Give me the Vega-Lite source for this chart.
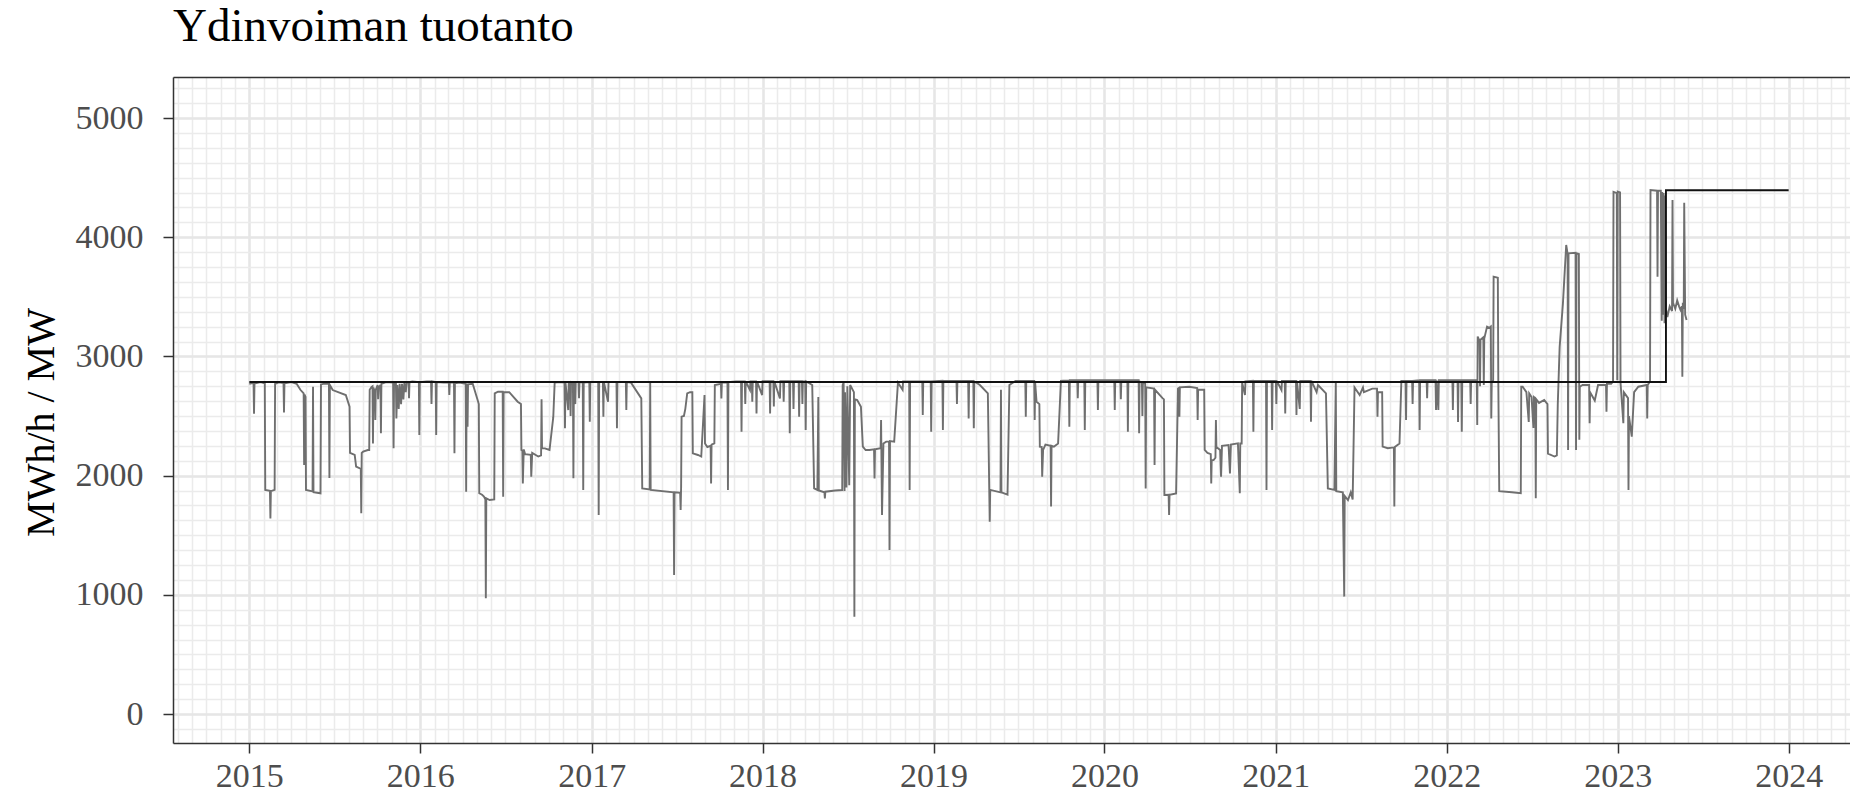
{
"$schema": "https://vega.github.io/schema/vega-lite/v6.json",
"width": 1677, "height": 666,
"autosize": {"type": "none"},
"padding": {"left": 173, "top": 77, "right": 0, "bottom": 55},
"background": "white",
"title": {"text": "Ydinvoiman tuotanto", "anchor": "start", "frame": "group", "font": "Liberation Serif", "fontSize": 47, "fontWeight": "normal", "color": "#000000", "offset": 26, "dy": 37, "baseline": "alphabetic"},
"config": {"view": {"stroke": null}},
"datasets": {
"prod": [
{"date":"2015-01-01","value":2770},{"date":"2015-01-10","value":2778},{"date":"2015-01-11","value":2520},{"date":"2015-01-12","value":2772},{"date":"2015-01-25","value":2785},
{"date":"2015-02-03","value":2775},{"date":"2015-02-04","value":1880},{"date":"2015-02-14","value":1872},{"date":"2015-02-15","value":1640},{"date":"2015-02-16","value":1870},{"date":"2015-02-24","value":1880},{"date":"2015-02-25","value":2770},
{"date":"2015-03-05","value":2782},{"date":"2015-03-15","value":2776},{"date":"2015-03-16","value":2530},{"date":"2015-03-17","value":2775},{"date":"2015-04-01","value":2785},{"date":"2015-04-12","value":2770},{"date":"2015-04-20","value":2720},{"date":"2015-04-27","value":2690},{"date":"2015-04-28","value":2090},{"date":"2015-04-29","value":2680},{"date":"2015-05-01","value":2660},
{"date":"2015-05-02","value":1880},{"date":"2015-05-16","value":1868},{"date":"2015-05-17","value":2745},{"date":"2015-05-18","value":1862},{"date":"2015-06-02","value":1852},{"date":"2015-06-03","value":2765},{"date":"2015-06-10","value":2772},{"date":"2015-06-20","value":2770},{"date":"2015-06-21","value":1980},{"date":"2015-06-22","value":2760},
{"date":"2015-06-28","value":2718},{"date":"2015-07-26","value":2676},{"date":"2015-08-03","value":2578},{"date":"2015-08-04","value":2190},{"date":"2015-08-14","value":2173},{"date":"2015-08-17","value":2075},{"date":"2015-08-25","value":2061},{"date":"2015-08-27","value":2060},{"date":"2015-08-28","value":1684},{"date":"2015-08-29","value":2190},{"date":"2015-09-01","value":2201},{"date":"2015-09-11","value":2215},{"date":"2015-09-14","value":2215},{"date":"2015-09-15","value":2720},
{"date":"2015-09-19","value":2745},{"date":"2015-09-21","value":2750},{"date":"2015-09-22","value":2270},{"date":"2015-09-23","value":2740},{"date":"2015-09-26","value":2700},{"date":"2015-09-27","value":2466},{"date":"2015-09-28","value":2720},{"date":"2015-10-02","value":2760},{"date":"2015-10-03","value":2640},{"date":"2015-10-04","value":2730},{"date":"2015-10-08","value":2760},{"date":"2015-10-09","value":2355},{"date":"2015-10-10","value":2770},{"date":"2015-10-20","value":2785},
{"date":"2015-11-04","value":2780},{"date":"2015-11-05","value":2229},{"date":"2015-11-06","value":2775},{"date":"2015-11-10","value":2780},{"date":"2015-11-11","value":2480},{"date":"2015-11-13","value":2760},{"date":"2015-11-16","value":2560},{"date":"2015-11-18","value":2770},{"date":"2015-11-21","value":2600},{"date":"2015-11-23","value":2770},{"date":"2015-11-26","value":2640},{"date":"2015-11-28","value":2780},{"date":"2015-12-01","value":2700},{"date":"2015-12-03","value":2785},{"date":"2015-12-07","value":2785},{"date":"2015-12-08","value":2650},{"date":"2015-12-09","value":2785},{"date":"2015-12-15","value":2790},{"date":"2015-12-29","value":2785},{"date":"2015-12-30","value":2341},{"date":"2015-12-31","value":2785},
{"date":"2016-01-15","value":2790},{"date":"2016-01-24","value":2790},{"date":"2016-01-25","value":2600},{"date":"2016-01-26","value":2790},{"date":"2016-02-03","value":2785},{"date":"2016-02-04","value":2341},{"date":"2016-02-05","value":2785},{"date":"2016-02-20","value":2780},{"date":"2016-03-02","value":2780},{"date":"2016-03-03","value":2676},{"date":"2016-03-04","value":2780},{"date":"2016-03-13","value":2780},{"date":"2016-03-14","value":2187},{"date":"2016-03-15","value":2775},{"date":"2016-03-25","value":2780},{"date":"2016-04-07","value":2770},{"date":"2016-04-08","value":1865},{"date":"2016-04-09","value":2770},{"date":"2016-04-11","value":2410},{"date":"2016-04-12","value":2765},{"date":"2016-04-22","value":2770},
{"date":"2016-05-02","value":2640},{"date":"2016-05-05","value":2600},{"date":"2016-05-06","value":1852},{"date":"2016-05-12","value":1840},{"date":"2016-05-16","value":1825},{"date":"2016-05-19","value":1800},{"date":"2016-05-20","value":971},{"date":"2016-05-21","value":1810},{"date":"2016-05-28","value":1795},{"date":"2016-06-07","value":1800},{"date":"2016-06-08","value":2690},{"date":"2016-06-15","value":2704},{"date":"2016-06-25","value":2704},{"date":"2016-06-26","value":1823},{"date":"2016-06-27","value":2700},{"date":"2016-07-09","value":2700},{"date":"2016-07-27","value":2620},
{"date":"2016-08-03","value":2600},{"date":"2016-08-04","value":2215},{"date":"2016-08-06","value":2210},{"date":"2016-08-07","value":1935},{"date":"2016-08-09","value":2220},{"date":"2016-08-12","value":2180},{"date":"2016-08-24","value":2175},{"date":"2016-08-25","value":1991},{"date":"2016-08-27","value":2190},{"date":"2016-09-09","value":2160},{"date":"2016-09-15","value":2170},{"date":"2016-09-16","value":2640},{"date":"2016-09-17","value":2230},{"date":"2016-09-23","value":2229},{"date":"2016-10-03","value":2215},{"date":"2016-10-11","value":2490},{"date":"2016-10-14","value":2780},
{"date":"2016-10-25","value":2785},{"date":"2016-11-04","value":2780},{"date":"2016-11-05","value":2397},{"date":"2016-11-06","value":2785},{"date":"2016-11-12","value":2550},{"date":"2016-11-13","value":2785},{"date":"2016-11-16","value":2785},{"date":"2016-11-17","value":2500},{"date":"2016-11-18","value":2785},{"date":"2016-11-22","value":2780},{"date":"2016-11-23","value":1977},{"date":"2016-11-24","value":2780},{"date":"2016-11-27","value":2600},{"date":"2016-11-28","value":2785},{"date":"2016-12-04","value":2785},{"date":"2016-12-05","value":2650},{"date":"2016-12-06","value":2785},{"date":"2016-12-13","value":2780},{"date":"2016-12-14","value":1879},{"date":"2016-12-15","value":2780},{"date":"2016-12-27","value":2785},{"date":"2016-12-28","value":2452},{"date":"2016-12-29","value":2785},
{"date":"2017-01-15","value":2785},{"date":"2017-01-16","value":1670},{"date":"2017-01-17","value":2785},{"date":"2017-01-25","value":2785},{"date":"2017-01-26","value":2494},{"date":"2017-01-27","value":2785},{"date":"2017-02-05","value":2620},{"date":"2017-02-06","value":2785},{"date":"2017-02-23","value":2785},{"date":"2017-02-24","value":2397},{"date":"2017-02-25","value":2785},{"date":"2017-03-15","value":2785},{"date":"2017-03-16","value":2550},{"date":"2017-03-17","value":2785},{"date":"2017-03-26","value":2780},{"date":"2017-04-17","value":2648},
{"date":"2017-04-19","value":1893},{"date":"2017-05-05","value":1885},{"date":"2017-05-06","value":2780},{"date":"2017-05-07","value":1880},{"date":"2017-06-25","value":1860},{"date":"2017-06-26","value":1166},{"date":"2017-06-27","value":1860},{"date":"2017-07-03","value":1858},{"date":"2017-07-09","value":1855},{"date":"2017-07-10","value":1712},{"date":"2017-07-11","value":1900},{"date":"2017-07-12","value":2495},{"date":"2017-07-17","value":2500},{"date":"2017-07-20","value":2560},{"date":"2017-07-24","value":2690},{"date":"2017-07-30","value":2700},
{"date":"2017-08-04","value":2700},{"date":"2017-08-05","value":2187},{"date":"2017-08-16","value":2173},{"date":"2017-08-23","value":2160},{"date":"2017-08-30","value":2676},{"date":"2017-08-31","value":2270},{"date":"2017-09-05","value":2240},{"date":"2017-09-12","value":2250},{"date":"2017-09-13","value":1935},{"date":"2017-09-14","value":2260},{"date":"2017-09-20","value":2270},{"date":"2017-09-21","value":2760},{"date":"2017-10-04","value":2770},{"date":"2017-10-05","value":2648},{"date":"2017-10-06","value":2780},{"date":"2017-10-18","value":2780},{"date":"2017-10-19","value":1879},{"date":"2017-10-20","value":2785},
{"date":"2017-11-05","value":2790},{"date":"2017-11-16","value":2790},{"date":"2017-11-17","value":2369},{"date":"2017-11-18","value":2790},{"date":"2017-11-24","value":2790},{"date":"2017-11-25","value":2600},{"date":"2017-11-26","value":2790},{"date":"2017-12-05","value":2718},{"date":"2017-12-06","value":2790},{"date":"2017-12-09","value":2790},{"date":"2017-12-10","value":2620},{"date":"2017-12-11","value":2790},{"date":"2017-12-18","value":2790},{"date":"2017-12-19","value":2522},{"date":"2017-12-20","value":2790},{"date":"2017-12-31","value":2676},
{"date":"2018-01-01","value":2792},{"date":"2018-01-16","value":2792},{"date":"2018-01-17","value":2522},{"date":"2018-01-18","value":2792},{"date":"2018-01-24","value":2792},{"date":"2018-01-25","value":2580},{"date":"2018-01-26","value":2792},{"date":"2018-02-07","value":2648},{"date":"2018-02-08","value":2792},{"date":"2018-02-14","value":2792},{"date":"2018-02-15","value":2620},{"date":"2018-02-16","value":2792},{"date":"2018-02-27","value":2792},{"date":"2018-02-28","value":2355},{"date":"2018-03-01","value":2792},{"date":"2018-03-07","value":2792},{"date":"2018-03-08","value":2560},{"date":"2018-03-09","value":2792},{"date":"2018-03-19","value":2792},{"date":"2018-03-20","value":2495},{"date":"2018-03-21","value":2792},{"date":"2018-03-26","value":2792},{"date":"2018-03-27","value":2600},{"date":"2018-03-28","value":2792},{"date":"2018-04-02","value":2790},{"date":"2018-04-03","value":2383},{"date":"2018-04-04","value":2790},{"date":"2018-04-17","value":2760},
{"date":"2018-04-21","value":1893},{"date":"2018-04-28","value":1880},{"date":"2018-04-30","value":2660},{"date":"2018-05-01","value":1875},{"date":"2018-05-13","value":1860},{"date":"2018-05-14","value":1809},{"date":"2018-05-15","value":1865},{"date":"2018-06-05","value":1875},{"date":"2018-06-20","value":1879},{"date":"2018-06-21","value":2760},{"date":"2018-06-23","value":2780},{"date":"2018-06-25","value":1870},{"date":"2018-06-26","value":2700},{"date":"2018-06-29","value":1900},{"date":"2018-07-01","value":2750},{"date":"2018-07-05","value":1920},{"date":"2018-07-07","value":2760},{"date":"2018-07-15","value":2700},{"date":"2018-07-16","value":817},{"date":"2018-07-17","value":2640},{"date":"2018-07-22","value":2634},{"date":"2018-07-30","value":2578},
{"date":"2018-08-03","value":2243},{"date":"2018-08-09","value":2215},{"date":"2018-08-17","value":2215},{"date":"2018-08-27","value":2220},{"date":"2018-08-28","value":1977},{"date":"2018-08-29","value":2220},{"date":"2018-09-10","value":2230},{"date":"2018-09-11","value":2466},{"date":"2018-09-13","value":1670},{"date":"2018-09-16","value":2270},{"date":"2018-09-22","value":2285},{"date":"2018-09-28","value":2285},{"date":"2018-09-29","value":1376},{"date":"2018-09-30","value":2290},{"date":"2018-10-09","value":2285},{"date":"2018-10-17","value":2780},{"date":"2018-10-27","value":2720},{"date":"2018-10-28","value":2790},
{"date":"2018-11-10","value":2790},{"date":"2018-11-11","value":1879},{"date":"2018-11-12","value":2790},{"date":"2018-12-08","value":2790},{"date":"2018-12-09","value":2508},{"date":"2018-12-10","value":2790},{"date":"2018-12-26","value":2790},{"date":"2018-12-27","value":2369},{"date":"2018-12-28","value":2790},
{"date":"2019-01-20","value":2795},{"date":"2019-01-21","value":2383},{"date":"2019-01-22","value":2795},{"date":"2019-02-10","value":2795},{"date":"2019-02-19","value":2795},{"date":"2019-02-20","value":2600},{"date":"2019-02-21","value":2795},{"date":"2019-03-16","value":2795},{"date":"2019-03-17","value":2480},{"date":"2019-03-18","value":2795},{"date":"2019-03-27","value":2795},{"date":"2019-03-28","value":2397},{"date":"2019-03-29","value":2790},{"date":"2019-04-10","value":2760},{"date":"2019-04-27","value":2690},
{"date":"2019-05-01","value":1614},{"date":"2019-05-02","value":1880},{"date":"2019-05-24","value":1860},{"date":"2019-05-25","value":2720},{"date":"2019-05-26","value":1860},{"date":"2019-06-08","value":1840},{"date":"2019-06-12","value":2760},{"date":"2019-06-25","value":2795},{"date":"2019-07-16","value":2795},{"date":"2019-07-17","value":2495},{"date":"2019-07-18","value":2795},{"date":"2019-08-04","value":2795},{"date":"2019-08-05","value":2466},{"date":"2019-08-06","value":2780},{"date":"2019-08-09","value":2620},{"date":"2019-08-15","value":2600},
{"date":"2019-08-16","value":2243},{"date":"2019-08-20","value":2240},{"date":"2019-08-21","value":1991},{"date":"2019-08-23","value":2215},{"date":"2019-08-28","value":2260},{"date":"2019-09-08","value":2250},{"date":"2019-09-09","value":1740},{"date":"2019-09-10","value":2250},{"date":"2019-09-15","value":2243},{"date":"2019-09-24","value":2270},{"date":"2019-09-30","value":2795},
{"date":"2019-10-17","value":2800},{"date":"2019-10-18","value":2410},{"date":"2019-10-19","value":2800},{"date":"2019-11-04","value":2800},{"date":"2019-11-05","value":2650},{"date":"2019-11-06","value":2800},{"date":"2019-11-19","value":2800},{"date":"2019-11-20","value":2383},{"date":"2019-11-21","value":2800},{"date":"2019-12-17","value":2800},{"date":"2019-12-18","value":2550},{"date":"2019-12-19","value":2800},
{"date":"2020-01-22","value":2800},{"date":"2020-01-23","value":2550},{"date":"2020-01-24","value":2800},{"date":"2020-02-04","value":2800},{"date":"2020-02-05","value":2640},{"date":"2020-02-06","value":2800},{"date":"2020-02-19","value":2800},{"date":"2020-02-20","value":2369},{"date":"2020-02-21","value":2800},{"date":"2020-03-14","value":2800},{"date":"2020-03-15","value":2355},{"date":"2020-03-16","value":2790},{"date":"2020-03-21","value":2780},{"date":"2020-03-22","value":2500},{"date":"2020-03-23","value":2780},{"date":"2020-03-28","value":2770},{"date":"2020-03-29","value":1893},{"date":"2020-03-30","value":2740},{"date":"2020-04-16","value":2730},{"date":"2020-04-17","value":2089},{"date":"2020-04-18","value":2720},{"date":"2020-05-04","value":2650},{"date":"2020-05-07","value":2640},
{"date":"2020-05-08","value":1838},{"date":"2020-05-17","value":1840},{"date":"2020-05-18","value":1670},{"date":"2020-05-19","value":1840},{"date":"2020-06-02","value":1850},{"date":"2020-06-06","value":2730},{"date":"2020-06-08","value":2735},{"date":"2020-06-09","value":2495},{"date":"2020-06-10","value":2740},{"date":"2020-06-30","value":2745},{"date":"2020-07-17","value":2735},{"date":"2020-07-18","value":2466},{"date":"2020-07-19","value":2720},{"date":"2020-08-01","value":2720},
{"date":"2020-08-02","value":2215},{"date":"2020-08-08","value":2190},{"date":"2020-08-15","value":2180},{"date":"2020-08-16","value":1935},{"date":"2020-08-17","value":2130},{"date":"2020-08-21","value":2130},{"date":"2020-08-25","value":2150},{"date":"2020-08-26","value":2466},{"date":"2020-08-27","value":2240},{"date":"2020-09-04","value":2215},{"date":"2020-09-06","value":1991},{"date":"2020-09-08","value":2250},{"date":"2020-09-22","value":2257},{"date":"2020-09-25","value":2019},{"date":"2020-09-27","value":2260},{"date":"2020-10-12","value":2270},{"date":"2020-10-16","value":1852},{"date":"2020-10-17","value":2270},{"date":"2020-10-20","value":2270},{"date":"2020-10-21","value":2780},
{"date":"2020-10-27","value":2676},{"date":"2020-10-28","value":2790},{"date":"2020-11-13","value":2795},{"date":"2020-11-14","value":2369},{"date":"2020-11-15","value":2795},{"date":"2020-12-11","value":2795},{"date":"2020-12-12","value":1879},{"date":"2020-12-13","value":2795},{"date":"2020-12-23","value":2795},{"date":"2020-12-24","value":2383},{"date":"2020-12-25","value":2795},
{"date":"2021-01-01","value":2795},{"date":"2021-01-02","value":2600},{"date":"2021-01-03","value":2795},{"date":"2021-01-13","value":2718},{"date":"2021-01-14","value":2795},{"date":"2021-01-20","value":2795},{"date":"2021-01-21","value":2522},{"date":"2021-01-22","value":2795},{"date":"2021-02-13","value":2795},{"date":"2021-02-14","value":2508},{"date":"2021-02-15","value":2795},{"date":"2021-02-21","value":2560},{"date":"2021-02-22","value":2795},{"date":"2021-03-16","value":2795},{"date":"2021-03-17","value":2452},{"date":"2021-03-18","value":2795},{"date":"2021-03-29","value":2700},{"date":"2021-04-01","value":2760},{"date":"2021-04-18","value":2690},
{"date":"2021-04-22","value":1893},{"date":"2021-05-06","value":1880},{"date":"2021-05-09","value":2790},{"date":"2021-05-10","value":1870},{"date":"2021-05-24","value":1860},{"date":"2021-05-27","value":985},{"date":"2021-05-28","value":1830},{"date":"2021-06-04","value":1795},{"date":"2021-06-10","value":1860},{"date":"2021-06-14","value":1800},{"date":"2021-06-18","value":2740},{"date":"2021-06-29","value":2676},{"date":"2021-07-06","value":2740},{"date":"2021-07-08","value":2700},{"date":"2021-07-26","value":2730},{"date":"2021-08-05","value":2730},{"date":"2021-08-06","value":2495},{"date":"2021-08-07","value":2700},{"date":"2021-08-16","value":2700},
{"date":"2021-08-17","value":2243},{"date":"2021-08-28","value":2230},{"date":"2021-09-06","value":2235},{"date":"2021-09-10","value":2235},{"date":"2021-09-11","value":1740},{"date":"2021-09-12","value":2240},{"date":"2021-09-22","value":2270},{"date":"2021-09-26","value":2795},{"date":"2021-10-05","value":2795},{"date":"2021-10-06","value":2466},{"date":"2021-10-07","value":2795},{"date":"2021-10-19","value":2795},{"date":"2021-10-20","value":2600},{"date":"2021-10-21","value":2795},{"date":"2021-11-03","value":2800},{"date":"2021-11-04","value":2383},{"date":"2021-11-05","value":2800},{"date":"2021-11-19","value":2800},{"date":"2021-11-20","value":2650},{"date":"2021-11-21","value":2800},{"date":"2021-12-08","value":2800},{"date":"2021-12-09","value":2550},{"date":"2021-12-10","value":2800},{"date":"2021-12-14","value":2550},{"date":"2021-12-15","value":2800},
{"date":"2022-01-13","value":2800},{"date":"2022-01-14","value":2550},{"date":"2022-01-15","value":2800},{"date":"2022-01-24","value":2800},{"date":"2022-01-25","value":2450},{"date":"2022-01-26","value":2800},{"date":"2022-02-01","value":2800},{"date":"2022-02-02","value":2369},{"date":"2022-02-03","value":2800},{"date":"2022-02-20","value":2800},{"date":"2022-02-21","value":2600},{"date":"2022-02-22","value":2800},{"date":"2022-03-06","value":2800},{"date":"2022-03-07","value":2425},{"date":"2022-03-08","value":3166},{"date":"2022-03-12","value":3130},{"date":"2022-03-13","value":2750},{"date":"2022-03-14","value":3140},{"date":"2022-03-20","value":3160},{"date":"2022-03-21","value":2760},{"date":"2022-03-22","value":3150},{"date":"2022-03-28","value":3250},{"date":"2022-04-02","value":3240},{"date":"2022-04-05","value":3250},{"date":"2022-04-06","value":2480},{"date":"2022-04-07","value":2790},{"date":"2022-04-10","value":2800},
{"date":"2022-04-11","value":3669},{"date":"2022-04-20","value":3660},{"date":"2022-04-21","value":2790},{"date":"2022-04-23","value":1870},{"date":"2022-05-20","value":1860},{"date":"2022-06-08","value":1852},{"date":"2022-06-09","value":2746},{"date":"2022-06-12","value":2746},{"date":"2022-06-20","value":2700},{"date":"2022-06-25","value":2450},{"date":"2022-06-26","value":2690},{"date":"2022-07-01","value":2660},{"date":"2022-07-05","value":2400},{"date":"2022-07-06","value":2660},{"date":"2022-07-09","value":2650},{"date":"2022-07-10","value":1810},{"date":"2022-07-11","value":2640},{"date":"2022-07-17","value":2610},{"date":"2022-07-28","value":2635},{"date":"2022-08-04","value":2600},
{"date":"2022-08-05","value":2185},{"date":"2022-08-19","value":2160},{"date":"2022-08-24","value":2170},{"date":"2022-08-26","value":2600},{"date":"2022-08-30","value":3080},{"date":"2022-09-06","value":3445},{"date":"2022-09-13","value":3935},{"date":"2022-09-16","value":3860},{"date":"2022-09-17","value":2215},{"date":"2022-09-18","value":3865},{"date":"2022-10-03","value":3870},{"date":"2022-10-04","value":2215},{"date":"2022-10-05","value":3865},{"date":"2022-10-10","value":3860},{"date":"2022-10-11","value":2300},{"date":"2022-10-12","value":2746},
{"date":"2022-10-18","value":2760},{"date":"2022-11-01","value":2760},{"date":"2022-11-02","value":2439},{"date":"2022-11-03","value":2700},{"date":"2022-11-13","value":2630},{"date":"2022-11-20","value":2760},{"date":"2022-12-07","value":2760},{"date":"2022-12-08","value":2537},{"date":"2022-12-09","value":2770},{"date":"2022-12-18","value":2770},{"date":"2022-12-22","value":2790},{"date":"2022-12-23","value":4380},{"date":"2022-12-30","value":4370},{"date":"2022-12-31","value":2800},
{"date":"2023-01-01","value":4382},{"date":"2023-01-06","value":4375},{"date":"2023-01-07","value":2780},{"date":"2023-01-13","value":2439},{"date":"2023-01-14","value":2700},{"date":"2023-01-23","value":2650},{"date":"2023-01-24","value":1880},{"date":"2023-01-25","value":2500},{"date":"2023-01-31","value":2327},{"date":"2023-02-05","value":2700},{"date":"2023-02-14","value":2746},{"date":"2023-03-04","value":2760},{"date":"2023-03-05","value":2480},{"date":"2023-03-06","value":2760},{"date":"2023-03-11","value":2790},
{"date":"2023-03-12","value":4396},{"date":"2023-03-26","value":4390},{"date":"2023-03-27","value":3669},{"date":"2023-03-28","value":4390},{"date":"2023-04-03","value":4390},{"date":"2023-04-05","value":3300},{"date":"2023-04-06","value":4380},{"date":"2023-04-08","value":3350},{"date":"2023-04-09","value":4370},{"date":"2023-04-11","value":3278},{"date":"2023-04-12","value":4350},{"date":"2023-04-14","value":3400},{"date":"2023-04-17","value":3330},{"date":"2023-04-22","value":3420},{"date":"2023-04-27","value":3380},{"date":"2023-04-28","value":4312},{"date":"2023-04-29","value":3450},{"date":"2023-05-04","value":3400},{"date":"2023-05-08","value":3470},{"date":"2023-05-12","value":3420},{"date":"2023-05-15","value":3390},{"date":"2023-05-18","value":3420},{"date":"2023-05-19","value":2830},{"date":"2023-05-20","value":3450},{"date":"2023-05-22","value":3400},{"date":"2023-05-23","value":4290},{"date":"2023-05-25","value":3350},{"date":"2023-05-28","value":3305}
],
"cap": [
{"date":"2015-01-01","value":2785},{"date":"2023-04-14","value":4394},{"date":"2024-01-01","value":4394}
]
},
"layer": [
{
"data": {"name": "prod"},
"mark": {"type": "line", "color": "#6f6f6f", "strokeWidth": 1.9},
"encoding": {
"x": {"field": "date", "type": "temporal",
"scale": {"type": "utc", "domain": [{"year": 2014, "month": 7, "date": 22, "utc": true}, {"year": 2024, "month": 5, "date": 11, "utc": true}]},
"axis": {"orient": "top", "grid": true, "gridColor": "#ebebeb", "gridWidth": 1.5, "tickCount": {"interval": "month", "step": 1}, "labels": false, "ticks": false, "domain": true, "domainColor": "#333333", "domainWidth": 1.5, "title": null}},
"y": {"field": "value", "type": "quantitative",
"scale": {"domain": [-243, 5344], "nice": false, "zero": false},
"axis": {"orient": "right", "grid": true, "gridColor": "#ebebeb", "gridWidth": 1.5, "values": [-125,0,125,250,375,500,625,750,875,1000,1125,1250,1375,1500,1625,1750,1875,2000,2125,2250,2375,2500,2625,2750,2875,3000,3125,3250,3375,3500,3625,3750,3875,4000,4125,4250,4375,4500,4625,4750,4875,5000,5125,5250], "labels": false, "ticks": false, "domain": false, "title": null}}
}
},
{
"data": {"name": "cap"},
"mark": {"type": "line", "color": "#111111", "strokeWidth": 1.9, "interpolate": "step-after"},
"encoding": {
"x": {"field": "date", "type": "temporal",
"axis": {"orient": "bottom", "grid": true, "gridColor": "#e6e6e6", "gridWidth": 2.5, "tickCount": {"interval": "year", "step": 1}, "format": "%Y", "labelFont": "Liberation Serif", "labelFontSize": 34, "labelColor": "#4d4d4d", "labelPadding": 6, "labelFlush": false, "labelOverlap": false, "tickColor": "#333333", "tickSize": 10, "tickWidth": 1.5, "domainColor": "#333333", "domainWidth": 1.5, "title": null}},
"y": {"field": "value", "type": "quantitative",
"axis": {"orient": "left", "grid": true, "gridColor": "#e6e6e6", "gridWidth": 2.5, "values": [0,1000,2000,3000,4000,5000], "format": "d", "labelFont": "Liberation Serif", "labelFontSize": 34, "labelColor": "#4d4d4d", "labelPadding": 20, "labelFlush": false, "tickColor": "#333333", "tickSize": 10, "tickWidth": 1.5, "domainColor": "#333333", "domainWidth": 1.5,
"title": "MWh/h / MW", "titleFont": "Liberation Serif", "titleFontSize": 40, "titleFontWeight": "normal", "titleColor": "#000000", "titleX": -120, "titleY": 345, "titleBaseline": "alphabetic", "titleAngle": -90, "titleAlign": "center"}}
}
}
]
}
